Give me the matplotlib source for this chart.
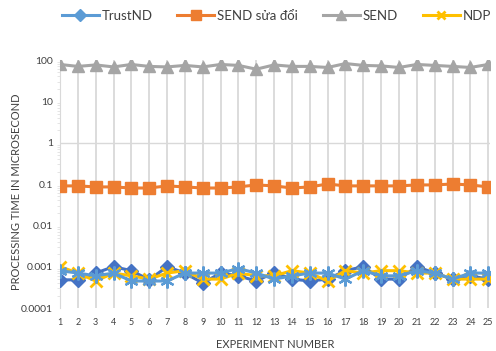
import numpy as np
import matplotlib
matplotlib.use("Agg")
import matplotlib.pyplot as plt
from matplotlib.lines import Line2D

plt.rcParams['font.family'] = ['Lato', 'DejaVu Sans']

experiments = list(range(1, 26))

send = [78, 70, 76, 68, 78, 70, 68, 74, 68, 78, 74, 60, 76, 70, 70, 66,
        82, 74, 72, 66, 78, 74, 70, 66, 78]
send_mod = [0.09, 0.09, 0.085, 0.085, 0.08, 0.08, 0.09, 0.085, 0.08, 0.08,
            0.085, 0.095, 0.09, 0.08, 0.085, 0.1, 0.09, 0.09, 0.09, 0.09,
            0.095, 0.095, 0.1, 0.095, 0.085]
trustnd = [0.00048, 0.00048, 0.0007, 0.001, 0.0008, 0.00048, 0.001, 0.0007,
           0.0004, 0.0007, 0.0006, 0.00045, 0.00072, 0.0005, 0.00045, 0.0005,
           0.0008, 0.001, 0.0005, 0.0005, 0.001, 0.0007, 0.0005, 0.0006, 0.0005]
ndp = [0.001, 0.0007, 0.00045, 0.0007, 0.0006, 0.0005, 0.0007, 0.0008,
       0.0005, 0.0005, 0.0007, 0.0006, 0.0006, 0.0008, 0.0007, 0.00045,
       0.0008, 0.0007, 0.0008, 0.0008, 0.0007, 0.0007, 0.0005, 0.0005, 0.0005]
extra = [0.0008, 0.0007, 0.0006, 0.0007, 0.00045, 0.00045, 0.00045, 0.0007,
         0.0007, 0.0007, 0.0009, 0.0007, 0.0005, 0.0006, 0.0007, 0.0007,
         0.0005, 0.0008, 0.0006, 0.0006, 0.0008, 0.0007, 0.0005, 0.0007, 0.0007]

yticks = [0.0001, 0.001, 0.01, 0.1, 1, 10, 100]
ytick_labels = ['0.0001', '0.001', '0.01', '0.1', '1', '10', '100']

c_blue = '#5B9BD5'
c_dblue = '#4472C4'
c_orange = '#ED7D31'
c_gray = '#A5A5A5'
c_yellow = '#FFC000'

fig = plt.figure(figsize=(4.96, 3.51), dpi=100)
ax = fig.add_axes([60 / 496, 1 - 308 / 351, 430 / 496, 248 / 351])

for x in experiments:
    ax.axvline(x, color='#D9D9D9', lw=1.3, zorder=0)
ax.axhline(1, color='#D9D9D9', lw=1.0, zorder=0)

ax.plot(experiments, send, color=c_gray, lw=2.2, marker='^', ms=8, zorder=3)
ax.plot(experiments, send_mod, color=c_orange, lw=2.2, marker='s', ms=8.5, zorder=3)
ax.plot(experiments, trustnd, color=c_dblue, lw=2.2, marker='D', ms=7, zorder=3)
ax.plot(experiments, ndp, color=c_yellow, lw=2.2, marker='x', ms=8, mew=2, zorder=4)
ax.plot(experiments, extra, color=c_blue, lw=2.2, marker=(6, 2, 0), ms=10, mew=1.6, zorder=5)

ax.set_yscale('log')
ax.set_ylim(0.0001, 100)
ax.set_xlim(1, 25.1)
ax.set_yticks(yticks)
ax.set_yticklabels(ytick_labels)
ax.set_xticks(experiments)
ax.tick_params(axis='y', which='major', length=0, labelsize=7.5, colors='#404040', pad=5)
ax.tick_params(axis='y', which='minor', length=2, color='#E0E0E0')
ax.tick_params(axis='x', length=0, labelsize=6.5, colors='#404040', pad=7)

for s in ['top', 'right', 'bottom']:
    ax.spines[s].set_visible(False)
ax.spines['left'].set_color('#D9D9D9')

ax.set_xlabel('EXPERIMENT NUMBER', fontsize=8, color='#404040')
ax.xaxis.set_label_coords(0.5, -0.125)
ax.set_ylabel('PROCESSING TIME IN MICROSECOND', fontsize=8, color='#404040')
ax.yaxis.set_label_coords(-38 / 430, 0.47)

handles = [
    Line2D([], [], color=c_blue, lw=2.2, marker='D', ms=6, mfc=c_blue, mec=c_blue),
    Line2D([], [], color=c_orange, lw=2.2, marker='s', ms=7),
    Line2D([], [], color=c_gray, lw=2.2, marker='^', ms=7),
    Line2D([], [], color=c_yellow, lw=2.2, marker='x', ms=6, mew=2),
]
labels = ['TrustND', 'SEND sửa đổi', 'SEND', 'NDP']
fig.legend(handles, labels, loc='center', bbox_to_anchor=(0.557, 0.955), ncol=4,
           frameon=False, fontsize=9.5, handlelength=2.8, columnspacing=1.9,
           handletextpad=0.2, labelcolor='#404040')

fig.savefig('out.png', dpi=100)
